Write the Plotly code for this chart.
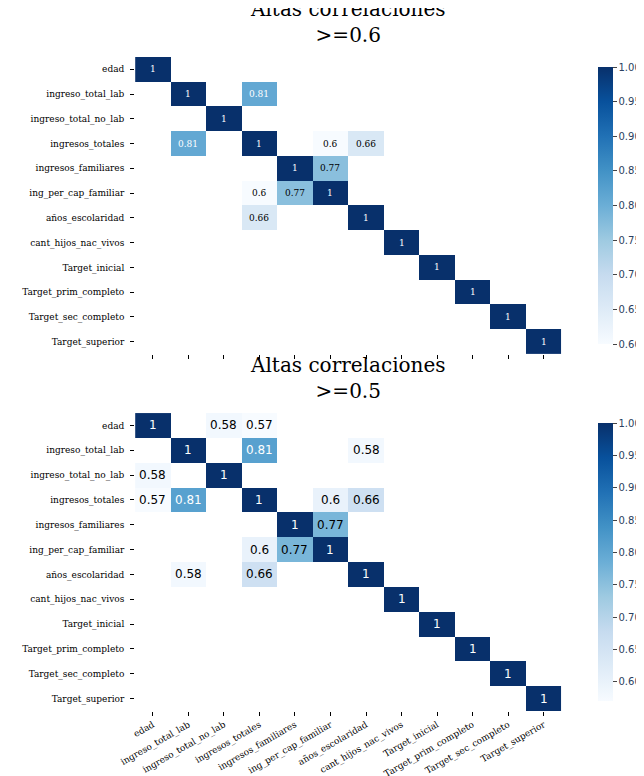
import numpy as np
import plotly.graph_objects as go

labels = ["edad", "ingreso_total_lab", "ingreso_total_no_lab", "ingresos_totales",
          "ingresos_familiares", "ing_per_cap_familiar", "años_escolaridad",
          "cant_hijos_nac_vivos", "Target_inicial", "Target_prim_completo",
          "Target_sec_completo", "Target_superior"]
# (row, col, value) strong off-diagonal correlations
pairs_a = ["edad", "edad", "ingreso_total_lab", "ingreso_total_lab", "ingresos_totales",
           "ingresos_totales", "ingresos_familiares"]
pairs_b = ["ingreso_total_no_lab", "ingresos_totales", "ingresos_totales", "años_escolaridad",
           "años_escolaridad", "ing_per_cap_familiar", "ing_per_cap_familiar"]
pair_vals = [0.58, 0.57, 0.81, 0.58, 0.66, 0.60, 0.77]
thresholds = [0.6, 0.5]
titles = ["Altas correlaciones<br>>=0.6", "Altas correlaciones<br>>=0.5"]

n = len(labels)
corr = np.full((n, n), 0.1)
np.fill_diagonal(corr, 1.0)
for a, b, v in zip(pairs_a, pairs_b, pair_vals):
    i, j = labels.index(a), labels.index(b)
    corr[i, j] = corr[j, i] = v

fig = go.Figure()
ydoms = [(0.554, 0.937), (0.094, 0.478)]
tdict = [dict(family="DejaVu Serif", size=9), dict(family="DejaVu Sans", size=12)]
serif = "DejaVu Serif"
for k, thr in enumerate(thresholds):
    z = np.where(corr >= thr, corr, np.nan)
    zmin = np.nanmin(z)
    xa, ya = ("x", "y") if k == 0 else ("x2", "y2")
    cb_y0, cb_y1 = ydoms[k]
    fig.add_trace(go.Heatmap(z=z, x=labels, y=labels, colorscale="Blues", zmin=zmin, zmax=1,
                             xaxis=xa, yaxis=ya, xgap=0, ygap=0, hoverongaps=False,
                             colorbar=dict(x=0.918, xanchor="left", y=cb_y0, yanchor="bottom",
                                           len=cb_y1 - cb_y0, lenmode="fraction", thickness=15,
                                           outlinewidth=0, ticks="outside", ticklen=4,
                                           tickformat=".2f", dtick=0.05,
                                           tickfont=dict(family="DejaVu Sans", size=10))))
    for i in range(n):
        for j in range(n):
            if not np.isnan(z[i, j]):
                frac = (z[i, j] - zmin) / (1 - zmin)
                fig.add_annotation(x=labels[j], y=labels[i], xref=xa, yref=ya,
                                   text=f"{z[i, j]:.2g}", showarrow=False,
                                   font=dict(tdict[k], color="white" if frac > 0.5 else "black"))
    fig.add_annotation(text=titles[k], x=0.528, xref="paper", y=cb_y1 + 0.01, yref="paper",
                       yanchor="bottom", showarrow=False, font=dict(family=serif, size=20, color="black"))

axcommon = dict(showgrid=False, zeroline=False, ticks="outside", ticklen=4, tickcolor="black",
                tickfont=dict(family=serif, size=9, color="black"), showline=False)
fig.update_layout(
    width=644, height=776, margin=dict(l=0, r=0, t=0, b=0), plot_bgcolor="white",
    paper_bgcolor="white",
    xaxis=dict(axcommon, domain=[0.182, 0.874], anchor="y", showticklabels=False),
    yaxis=dict(axcommon, domain=list(ydoms[0]), autorange="reversed", anchor="x", ticklabelstandoff=4),
    xaxis2=dict(axcommon, domain=[0.182, 0.874], anchor="y2", tickangle=-30),
    yaxis2=dict(axcommon, domain=list(ydoms[1]), autorange="reversed", anchor="x2", ticklabelstandoff=4),
)
fig.write_html("out.html")
